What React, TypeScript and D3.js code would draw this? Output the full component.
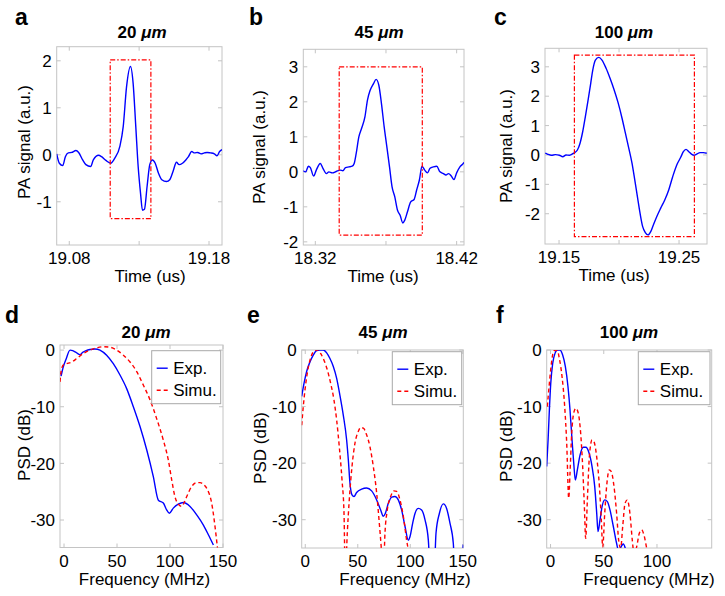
import React from 'react';
import * as d3 from 'd3';

const W = 725;
const H = 596;
const font = 'Liberation Sans, Arial, Helvetica, sans-serif';

// ---- panel a : 20 um, PA signal ----
const timeA = [19.0710, 19.0729, 19.0753, 19.0772, 19.0793, 19.0817, 19.0848, 19.0867, 19.0896, 19.0919, 19.0953, 19.0972, 19.1010, 19.1031, 19.1062, 19.1096, 19.1126, 19.1162, 19.1186, 19.1210, 19.1238, 19.1257, 19.1276, 19.1293, 19.1310, 19.1324, 19.1338, 19.1357, 19.1376, 19.1395, 19.1415, 19.1438, 19.1462, 19.1496, 19.1519, 19.1543, 19.1567, 19.1586, 19.1610, 19.1634, 19.1653, 19.1676, 19.1696, 19.1719, 19.1743, 19.1767, 19.1786, 19.1810, 19.1838, 19.1857, 19.1876, 19.1893];
const signalA = [0.02, -0.18, -0.23, -0.04, 0.04, 0.05, 0.09, 0.05, -0.11, -0.21, -0.25, -0.11, -0.01, -0.04, -0.12, -0.18, -0.07, 0.18, 0.60, 1.45, 1.88, 1.52, 0.60, -0.25, -0.82, -1.18, -1.16, -0.67, -0.21, -0.11, -0.18, -0.39, -0.53, -0.57, -0.53, -0.35, -0.16, -0.21, -0.18, -0.11, -0.04, 0.07, 0.04, 0.05, 0.02, 0.04, 0.05, 0.04, 0.02, -0.02, 0.07, 0.11];
const windowA = [19.1093, 19.1384, -1.36, 2.02];

// ---- panel b : 45 um ----
const timeB = [18.3113, 18.3132, 18.3151, 18.3165, 18.3188, 18.3207, 18.3235, 18.3254, 18.3278, 18.3296, 18.3320, 18.3348, 18.3376, 18.3395, 18.3414, 18.3438, 18.3461, 18.3475, 18.3489, 18.3508, 18.3527, 18.3551, 18.3569, 18.3588, 18.3612, 18.3630, 18.3649, 18.3668, 18.3687, 18.3706, 18.3725, 18.3743, 18.3762, 18.3781, 18.3800, 18.3819, 18.3833, 18.3852, 18.3875, 18.3899, 18.3917, 18.3936, 18.3955, 18.3974, 18.3993, 18.4012, 18.4035, 18.4059, 18.4082, 18.4106, 18.4124, 18.4143, 18.4162, 18.4181, 18.4200, 18.4223, 18.4247, 18.4252];
const signalB = [0.03, 0.00, 0.16, 0.12, -0.12, 0.05, 0.24, 0.10, -0.05, 0.00, -0.03, 0.01, 0.05, 0.03, 0.12, 0.14, 0.16, 0.24, 0.52, 1.00, 1.24, 1.57, 2.05, 2.33, 2.52, 2.64, 2.48, 1.95, 1.29, 0.72, 0.14, -0.43, -0.71, -1.09, -1.24, -1.46, -1.38, -1.14, -0.86, -0.79, -0.52, -0.24, 0.16, 0.05, -0.03, 0.10, 0.14, 0.16, 0.00, -0.05, -0.09, -0.05, -0.12, -0.22, -0.03, 0.14, 0.24, 0.27];
const windowB = [18.3369, 18.3957, -1.81, 3.0];

// ---- panel c : 100 um ----
const timeC = [19.1385, 19.1403, 19.1436, 19.1469, 19.1503, 19.1531, 19.1558, 19.1586, 19.1608, 19.1631, 19.1653, 19.1675, 19.1697, 19.1719, 19.1742, 19.1764, 19.1781, 19.1803, 19.1831, 19.1858, 19.1892, 19.1925, 19.1958, 19.1992, 19.2025, 19.2053, 19.2081, 19.2108, 19.2131, 19.2153, 19.2175, 19.2197, 19.2219, 19.2242, 19.2264, 19.2286, 19.2314, 19.2347, 19.2381, 19.2414, 19.2447, 19.2481, 19.2514, 19.2536, 19.2558, 19.2581, 19.2603, 19.2625, 19.2647, 19.2675, 19.2703, 19.2731];
const signalC = [0.06, 0.03, -0.01, 0.01, -0.01, -0.06, 0, -0.01, 0.03, 0.08, 0.17, 0.40, 0.79, 1.30, 1.87, 2.44, 2.89, 3.23, 3.32, 3.23, 2.95, 2.61, 2.23, 1.78, 1.25, 0.74, 0.23, -0.28, -0.85, -1.42, -1.98, -2.44, -2.64, -2.72, -2.61, -2.38, -2.10, -1.81, -1.53, -1.19, -0.74, -0.34, -0.08, 0.11, 0.19, 0.11, 0.03, -0.01, 0.03, 0.08, 0.08, 0.06];
const windowC = [19.1628, 19.2628, -2.78, 3.40];

// ---- panel d : PSD 20 um ----
const freqDExp = [-2.8, -0.6, 1.9, 5.7, 8.2, 11.3, 15.1, 17.6, 20.8, 24.5, 29.2, 33.9, 40.2, 46.5, 52.8, 59.1, 65.4, 71.7, 78.0, 84.2, 89.0, 93.7, 96.8, 99.4, 103.1, 107.8, 112.6, 118.9, 125.2, 131.5, 136.2, 140.9];
const psdDExp = [-4.6, -2.9, -1.6, 0.0, -0.1, -0.4, -0.8, -0.4, -0.1, 0.1, 0.2, 0, -0.9, -2.4, -4.4, -6.8, -10.0, -13.5, -17.6, -22.3, -26.5, -27.0, -28.2, -28.8, -27.9, -27.2, -26.9, -27.6, -29.1, -30.9, -32.6, -34.4];
const freqDSim = [-3.8, -2.8, -0.6, 2.5, 7.3, 11.9, 18.2, 24.5, 30.8, 37.1, 43.4, 49.7, 56.0, 62.3, 68.6, 74.9, 81.2, 87.4, 93.7, 98.4, 101.6, 104.7, 107.8, 111.0, 113.2, 115.7, 120.4, 125.2, 128.3, 132.1, 136.2, 139.3, 142.5, 144.7, 146.5];
const psdDSim = [-5.6, -3.8, -2.6, -2.4, -2.1, -1.5, -0.6, 0, 0.4, 0.6, 0.5, 0, -0.9, -2.1, -3.8, -6.2, -8.8, -12.1, -15.9, -19.4, -22.9, -25.9, -27.2, -27.6, -27.0, -25.9, -24.1, -23.4, -23.4, -23.8, -25.0, -27.0, -31.2, -34.8, -38];

// ---- panel e : PSD 45 um ----
const freqEExp = [-3.4, -1.2, 1.3, 4.5, 7.6, 10.8, 14.0, 17.2, 20.4, 23.5, 26.7, 29.9, 33.0, 36.2, 39.4, 41.0, 42.6, 44.5, 46.4, 48.9, 53.7, 58.4, 63.2, 68.0, 71.8, 74.3, 76.2, 79.1, 82.3, 85.4, 88.6, 91.8, 95.0, 98.1, 99.7, 102.3, 104.5, 107.6, 110.8, 114.0, 117.2, 119.4, 122.6, 124.5, 127.7, 131.5, 134.6, 137.8, 141.0, 142.6, 148.0, 150.5];
const psdEExp = [-8.2, -5.9, -3.8, -2.1, -0.9, -0.1, 0, 0, -0.5, -1.5, -2.9, -5.0, -8.0, -11.5, -15.9, -19.4, -23.6, -25.6, -25.9, -25.2, -24.6, -24.4, -24.9, -26.5, -28.3, -29.4, -28.9, -27.1, -26.0, -25.9, -26.5, -28.3, -31.2, -33.6, -33.0, -30.6, -28.9, -28.0, -28.3, -30.0, -33.6, -40, -40, -32.4, -28.9, -27.2, -28.0, -30.6, -34.2, -40, -40, -34.4];
const freqESim = [-3.4, -1.9, -0.3, 1.9, 4.5, 7.0, 9.6, 12.1, 14.6, 17.8, 21.0, 24.2, 27.3, 29.9, 32.4, 35.0, 36.9, 38.1, 40.0, 41.9, 44.5, 47.3, 50.5, 52.7, 55.3, 58.4, 61.6, 64.8, 68.0, 70.5, 72.4, 74.3, 75.9, 78.1, 81.3, 84.5, 87.0, 90.2, 93.4, 96.5, 98.4, 100.5];
const psdESim = [-13.3, -10.0, -7.1, -4.1, -1.8, -0.5, 0, 0, -0.6, -1.8, -3.5, -5.9, -8.8, -12.4, -17.1, -23.0, -28.9, -40, -32.4, -26.5, -20.6, -16.5, -14.4, -13.7, -13.8, -15.0, -17.1, -20.6, -25.3, -30.6, -35.0, -40, -32.4, -28.3, -25.9, -24.9, -25.0, -26.5, -29.4, -33.6, -36, -42];

// ---- panel f : PSD 100 um ----
const freqFExp = [-3.6, -2.3, -1.1, 0.2, 2.0, 4.2, 6.4, 8.9, 11.4, 13.9, 16.4, 18.3, 20.2, 21.8, 23.3, 25.2, 27.7, 30.8, 33.3, 35.8, 39.0, 41.5, 43.4, 44.6, 46.5, 48.4, 50.9, 53.4, 55.9, 59.0, 62.1, 64.0, 66.8, 68.4, 70.3, 71.5, 73];
const psdFExp = [-20.6, -15.9, -10.6, -5.9, -2.4, -0.6, 0, 0, -0.9, -2.9, -6.5, -10.6, -15.9, -20.0, -23.0, -21.2, -18.6, -17.2, -17.2, -18.0, -20.6, -24.1, -28.9, -32.1, -30.0, -27.7, -26.5, -26.8, -28.3, -31.2, -34.2, -35.5, -34.6, -34.3, -35.1, -36, -40];
const freqFSim = [-3.0, -1.1, 0.8, 2.7, 4.5, 6.4, 8.3, 10.8, 13.3, 15.2, 17.1, 18.3, 19.9, 22.1, 23.9, 26.1, 28.3, 30.2, 31.8, 33.0, 34.6, 36.5, 39.0, 40.8, 43.3, 45.9, 47.7, 49.0, 50.9, 52.7, 55.2, 57.1, 59.6, 62.1, 64.0, 65.9, 67.8, 70.0, 72.1, 74.6, 76.8, 78.4, 80.9, 83.4, 85.6, 87.8, 90.3, 91.5];
const psdFSim = [-10.0, -5.9, -2.4, -0.3, 0, -0.1, -1.5, -4.7, -10.0, -16.5, -26.2, -21.8, -14.7, -10.9, -10.3, -11.2, -14.7, -20.6, -27.7, -33.3, -26.5, -18.8, -15.9, -16.2, -18.8, -24.1, -30.0, -34.8, -28.9, -24.1, -21.2, -21.5, -24.1, -28.9, -33.6, -35, -31.2, -27.1, -26.5, -28.9, -33.6, -36, -34.8, -32.4, -31.8, -32.7, -35, -36];

// ticks / labels
const timeTicksA = [19.08, 19.13, 19.18];
const timeLabelsA = ['19.08', '', '19.18'];
const timeTicksB = [18.32, 18.37, 18.42];
const timeLabelsB = ['18.32', '', '18.42'];
const timeTicksC = [19.15, 19.2, 19.25];
const timeLabelsC = ['19.15', '', '19.25'];
const signalTicksA = [-1, 0, 1, 2];
const signalTicksBC = [-2, -1, 0, 1, 2, 3];
const freqTicks = [0, 50, 100, 150];
const freqTicksF = [0, 50, 100];
const psdTicks = [-30, -20, -10, 0];
const sizes = ['20', '45', '100'];
const legendNames = ['Exp.', 'Simu.'];

const BLUE = '#0000ff';
const RED = '#ff0000';
const AXIS = '#c4c4c4';

const zip = (xs, ys) => xs.map((x, i) => [x, ys[i]]);

const panels = [
  {
    id: 'a', lx: 15, ly: 25, size: sizes[0], tx: 142, ty: 38,
    box: [56.7, 222, 46.7, 245], xd: [19.071, 19.1893], yd: [-1.92, 2.3],
    xt: timeTicksA, xtl: timeLabelsA, yt: signalTicksA,
    xl: 'Time (us)', xlx: 150, yl: 'PA signal (a.u.)', ylx: 30, yly: 142,
    series: [{ d: zip(timeA, signalA), c: BLUE }], win: windowA,
  },
  {
    id: 'b', lx: 249, ly: 25, size: sizes[1], tx: 379, ty: 38,
    box: [303.3, 464, 49.3, 245], xd: [18.3115, 18.4252], yd: [-2.09, 3.5],
    xt: timeTicksB, xtl: timeLabelsB, yt: signalTicksBC,
    xl: 'Time (us)', xlx: 383, yl: 'PA signal (a.u.)', ylx: 265, yly: 147,
    series: [{ d: zip(timeB, signalB), c: BLUE }], win: windowB,
  },
  {
    id: 'c', lx: 494, ly: 25, size: sizes[2], tx: 624, ty: 38,
    box: [545, 707, 48.3, 244], xd: [19.1383, 19.2733], yd: [-3.03, 3.63],
    xt: timeTicksC, xtl: timeLabelsC, yt: signalTicksBC,
    xl: 'Time (us)', xlx: 614, yl: 'PA signal (a.u.)', ylx: 512, yly: 146,
    series: [{ d: zip(timeC, signalC), c: BLUE }], win: windowC,
  },
  {
    id: 'd', lx: 5, ly: 323, size: sizes[0], tx: 146, ty: 338,
    box: [60, 223, 345, 547.5], xd: [-3.8, 150], yd: [-34.85, 0.9],
    xt: freqTicks, xtl: freqTicks.map(String), yt: psdTicks,
    xl: 'Frequency (MHz)', xlx: 144.5, yl: 'PSD (dB)', ylx: 30, yly: 445,
    series: [
      { d: zip(freqDExp, psdDExp), c: BLUE },
      { d: zip(freqDSim, psdDSim), c: RED, dash: '4,3' },
    ],
    legend: [151.7, 350.7, 69],
  },
  {
    id: 'e', lx: 247, ly: 323, size: sizes[1], tx: 383, ty: 338,
    box: [301.7, 463.3, 350, 548], xd: [-3.4, 150.5], yd: [-35, 0],
    xt: freqTicks, xtl: freqTicks.map(String), yt: psdTicks,
    xl: 'Frequency (MHz)', xlx: 405, yl: 'PSD (dB)', ylx: 266, yly: 448,
    series: [
      { d: zip(freqEExp, psdEExp), c: BLUE },
      { d: zip(freqESim, psdESim), c: RED, dash: '4,3' },
    ],
    legend: [392.3, 351.7, 69.4],
  },
  {
    id: 'f', lx: 496, ly: 323, size: sizes[2], tx: 629, ty: 338,
    box: [546.7, 711.7, 350, 548], xd: [-3.6, 151.4], yd: [-35, 0],
    xt: freqTicksF, xtl: freqTicksF.map(String), yt: psdTicks,
    xl: 'Frequency (MHz)', xlx: 649, yl: 'PSD (dB)', ylx: 512, yly: 446,
    series: [
      { d: zip(freqFExp, psdFExp), c: BLUE },
      { d: zip(freqFSim, psdFSim), c: RED, dash: '4,3' },
    ],
    legend: [638.3, 351.7, 71.7],
  },
];

function Panel({ p }) {
  const [l, r, t, b] = p.box;
  const x = d3.scaleLinear().domain(p.xd).range([l, r]);
  const y = d3.scaleLinear().domain(p.yd).range([b, t]);
  const line = d3
    .line()
    .x((d) => x(d[0]))
    .y((d) => y(d[1]))
    .curve(d3.curveMonotoneX);
  const tick = 4;

  return (
    <g>
      <defs>
        <clipPath id={`clip-${p.id}`}>
          <rect x={l} y={t} width={r - l} height={b - t} />
        </clipPath>
      </defs>
      <text x={p.lx} y={p.ly} fontSize={23} fontWeight="bold">{p.id}</text>
      <text x={p.tx} y={p.ty} fontSize={17} fontWeight="bold" textAnchor="middle">
        {p.size} <tspan fontStyle="italic">μm</tspan>
      </text>

      {/* frame + inward ticks */}
      <rect x={l} y={t} width={r - l} height={b - t} fill="white" stroke={AXIS} />
      {p.xt.map((v) => (
        <g key={`xt${v}`} stroke={AXIS}>
          <line x1={x(v)} x2={x(v)} y1={b} y2={b - tick} />
          <line x1={x(v)} x2={x(v)} y1={t} y2={t + tick} />
        </g>
      ))}
      {p.yt.map((v) => (
        <g key={`yt${v}`} stroke={AXIS}>
          <line x1={l} x2={l + tick} y1={y(v)} y2={y(v)} />
          <line x1={r} x2={r - tick} y1={y(v)} y2={y(v)} />
        </g>
      ))}

      {p.xt.map((v, i) => (
        <text key={`xl${v}`} x={x(v)} y={b + 19} fontSize={17} textAnchor="middle">
          {p.xtl[i]}
        </text>
      ))}
      {p.yt.map((v) => (
        <text key={`yl${v}`} x={l - 5} y={y(v)} dy="0.36em" fontSize={17} textAnchor="end">
          {v}
        </text>
      ))}

      <text x={p.xlx} y={b + 37} fontSize={17} textAnchor="middle">{p.xl}</text>
      <text
        transform={`translate(${p.ylx},${p.yly}) rotate(-90)`}
        fontSize={17}
        textAnchor="middle"
      >
        {p.yl}
      </text>

      <g clipPath={`url(#clip-${p.id})`}>
        {p.series.map((s, i) => (
          <path
            key={i}
            d={line(s.d)}
            fill="none"
            stroke={s.c}
            strokeWidth={1.4}
            strokeDasharray={s.dash}
          />
        ))}
      </g>

      {p.win && (
        <rect
          x={x(p.win[0])}
          y={y(p.win[3])}
          width={x(p.win[1]) - x(p.win[0])}
          height={y(p.win[2]) - y(p.win[3])}
          fill="none"
          stroke={RED}
          strokeWidth={1.2}
          strokeDasharray="5,2,1.5,2"
        />
      )}

      {p.legend && (
        <g>
          <rect x={p.legend[0]} y={p.legend[1]} width={p.legend[2]} height={53}
            fill="white" stroke="#a8a8a8" />
          {legendNames.map((name, i) => {
            const ly = p.legend[1] + 17.5 + i * 22;
            const lx = p.legend[0];
            return (
              <g key={name}>
                <line x1={lx + 5} x2={lx + 16} y1={ly} y2={ly}
                  stroke={p.series[i].c} strokeWidth={1.4} strokeDasharray={p.series[i].dash} />
                <text x={lx + 21.5} y={ly + 6} fontSize={17}>{name}</text>
              </g>
            );
          })}
        </g>
      )}
    </g>
  );
}

export default function App() {
  return (
    <svg
      width={W}
      height={H}
      style={{ position: 'absolute', left: 0, top: 0, background: 'white', fontFamily: font }}
    >
      {panels.map((p) => (
        <Panel key={p.id} p={p} />
      ))}
    </svg>
  );
}
